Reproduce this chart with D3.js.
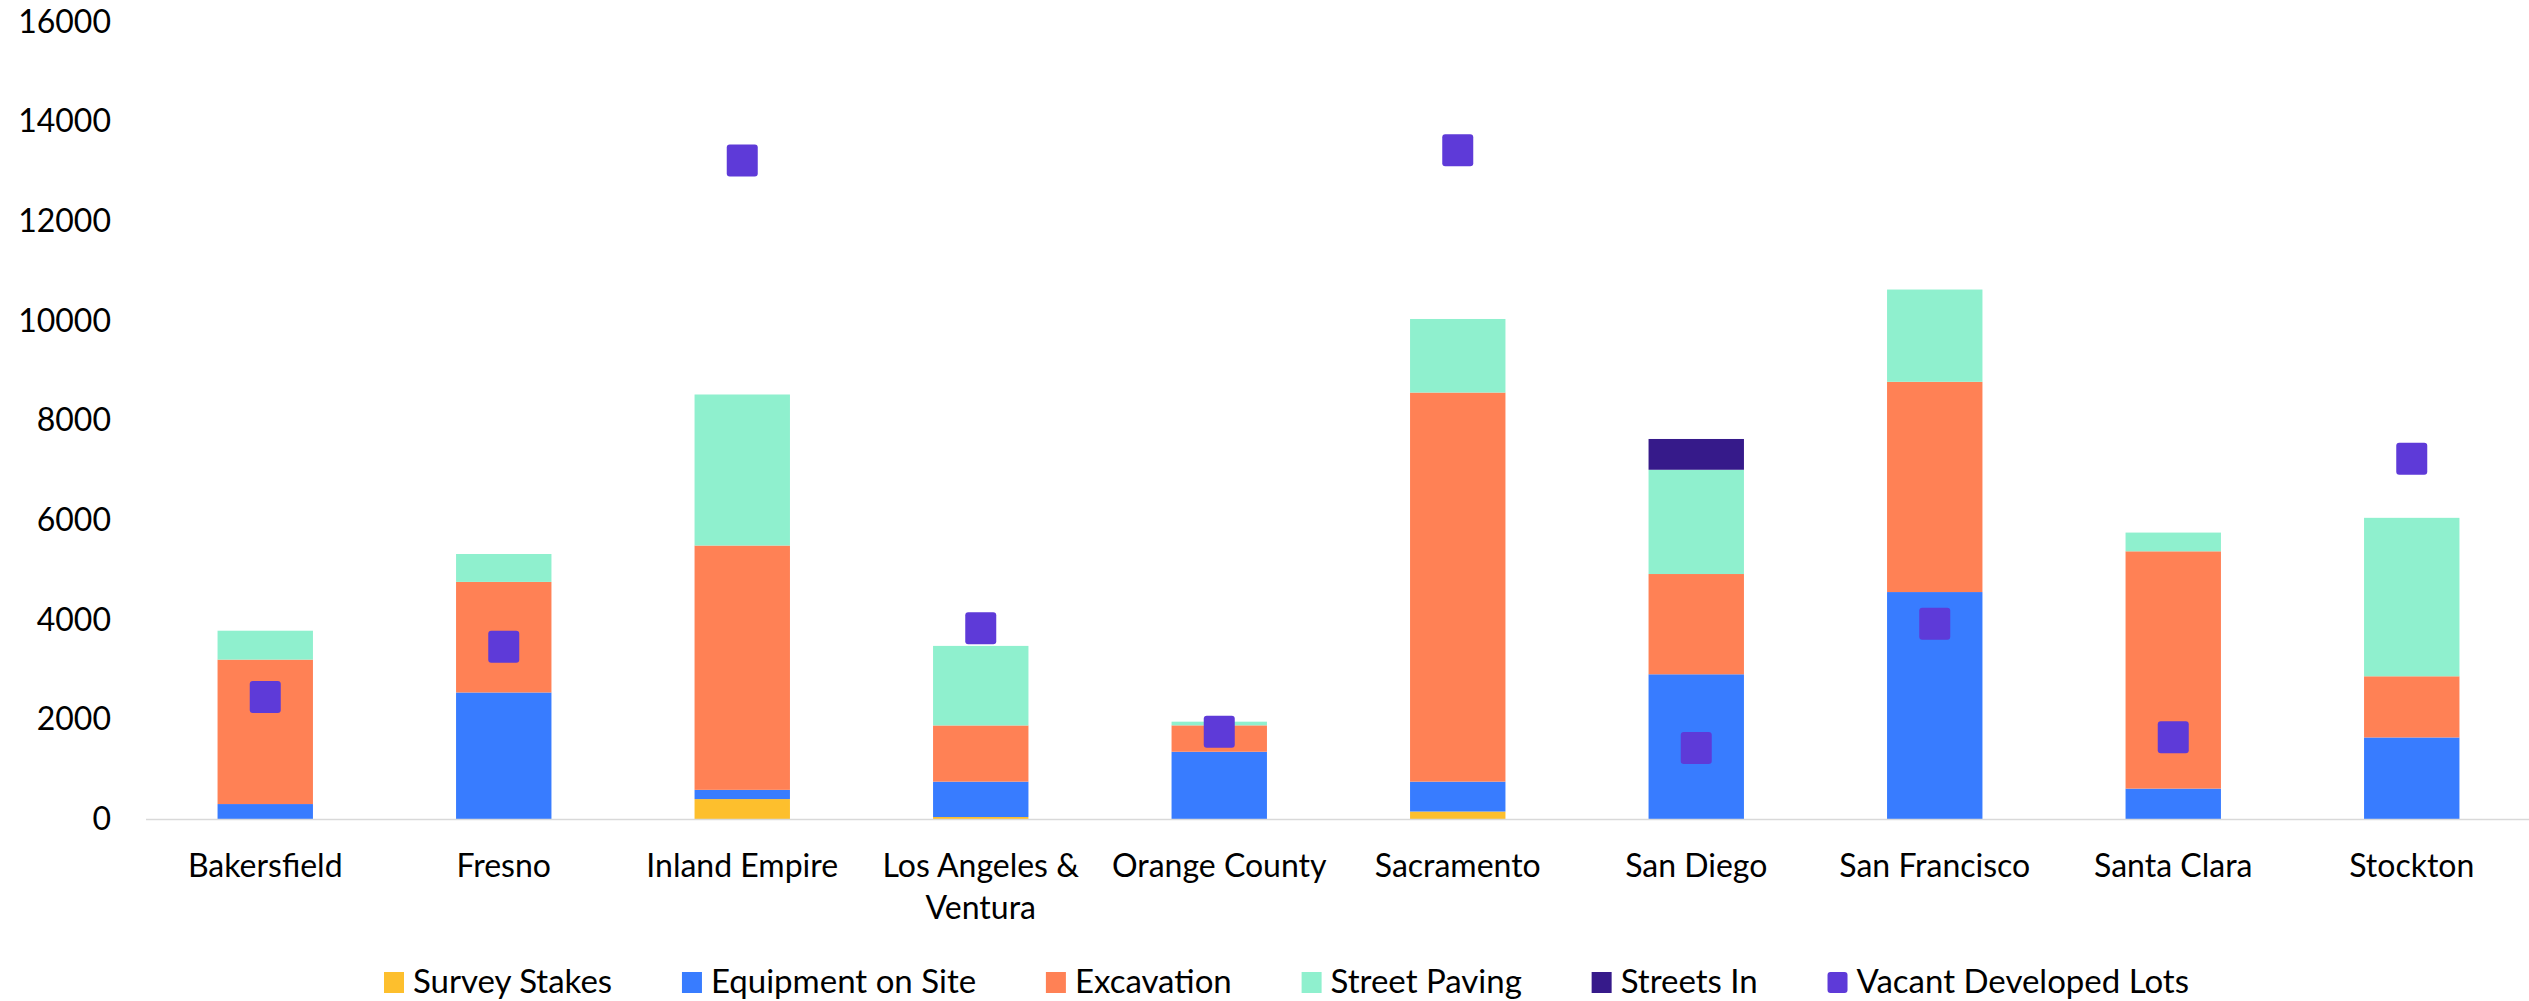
<!DOCTYPE html>
<html>
<head>
<meta charset="utf-8">
<script src="https://cdn.jsdelivr.net/npm/d3@7"></script>
<style>
  html, body { margin: 0; padding: 0; background: #ffffff; }
  svg { display: block; }
  text { font-family: Lato, "Open Sans", "Noto Sans", sans-serif; fill: #000; }
</style>
</head>
<body>
<script>
// Market regions
const categories = ["Bakersfield", "Fresno", "Inland Empire", "Los Angeles & Ventura", "Orange County",
  "Sacramento", "San Diego", "San Francisco", "Santa Clara", "Stockton"];

// Stacked stages
const surveyStakes    = [0, 0, 400, 40, 0, 150, 0, 0, 0, 0];
const equipmentOnSite = [300, 2540, 185, 710, 1350, 600, 2905, 4556, 610, 1637];
const excavation      = [2900, 2220, 4905, 1128, 530, 7811, 2013, 4221, 4764, 1228];
const streetPaving    = [580, 560, 3032, 1597, 74, 1477, 2093, 1852, 376, 3181];
const streetsIn       = [0, 0, 0, 0, 0, 0, 618, 0, 0, 0];

// Point series
const vacantDevelopedLots = [2460, 3470, 13230, 3840, 1760, 13435, 1435, 3930, 1650, 7240];

const yTicks = [0, 2000, 4000, 6000, 8000, 10000, 12000, 14000, 16000];

const seriesNames = ["Survey Stakes", "Equipment on Site", "Excavation", "Street Paving", "Streets In"];
const seriesValues = [surveyStakes, equipmentOnSite, excavation, streetPaving, streetsIn];
const seriesColors = ["#fdbf2d", "#387cff", "#ff8155", "#8ff0ce", "#361a8a"];
const pointName = "Vacant Developed Lots";
const pointColor = "#5e3ad8";

const W = 2529, H = 1001;
const svg = d3.select("body").append("svg").attr("width", W).attr("height", H);

const x = d3.scaleBand().domain(categories).range([146, 2531]).paddingInner(0.6).paddingOuter(0.3);
const y = d3.scaleLinear().domain([0, 16000]).range([819, 22]);

// Stack table built from the named arrays
const rows = categories.map((c, i) => {
  const r = { category: c };
  seriesNames.forEach((s, k) => { r[s] = seriesValues[k][i]; });
  return r;
});
const stacked = d3.stack().keys(seriesNames)(rows);

const bars = svg.append("g");
stacked.forEach((layer, k) => {
  bars.append("g").attr("fill", seriesColors[k])
    .selectAll("rect").data(layer.filter(d => d[1] - d[0] > 0)).join("rect")
    .attr("x", d => x(d.data.category))
    .attr("width", x.bandwidth())
    .attr("y", d => y(d[1]))
    .attr("height", d => y(d[0]) - y(d[1]));
});

// Baseline
svg.append("line")
  .attr("x1", 146).attr("x2", W)
  .attr("y1", y(0) + 0.5).attr("y2", y(0) + 0.5)
  .attr("stroke", "#d9d9d9").attr("stroke-width", 1.5);

// Y axis labels
const yAxis = d3.axisLeft(y).tickValues(yTicks).tickSize(0).tickPadding(0).tickFormat(d3.format("d"));
const gy = svg.append("g").attr("transform", "translate(111,0)").call(yAxis);
gy.select(".domain").remove();
gy.selectAll("text").attr("font-size", 32).attr("font-family", "Lato, sans-serif").attr("fill", "#000");

// X axis labels (with wrapping for long names)
const xAxis = d3.axisBottom(x).tickSize(0).tickPadding(0).tickFormat("");
const gx = svg.append("g").attr("transform", `translate(0,${y(0)})`).call(xAxis);
gx.select(".domain").remove();
const wrapLines = c => c === "Los Angeles & Ventura" ? ["Los Angeles &", "Ventura"] : [c];
gx.selectAll(".tick").each(function(c) {
  const t = d3.select(this).append("text")
    .attr("text-anchor", "middle").attr("font-size", 32).attr("fill", "#000");
  wrapLines(c).forEach((line, i) => {
    t.append("tspan").attr("x", 0).attr("y", 58 + i * 42).text(line);
  });
});

// Vacant lots markers
const m = 31;
svg.append("g").selectAll("rect").data(categories).join("rect")
  .attr("x", c => x(c) + x.bandwidth() / 2 - m / 2)
  .attr("y", (c, i) => y(vacantDevelopedLots[i]) - m / 2)
  .attr("width", m).attr("height", m + 1)
  .attr("rx", 3).attr("ry", 3)
  .attr("fill", pointColor);

// Legend: spread items across a fixed span below the chart
const legendItems = seriesNames.map((s, k) => ({ name: s, color: seriesColors[k], round: false }))
  .concat([{ name: pointName, color: pointColor, round: true }]);
const legendLeft = 384, legendRight = 2189;
const legend = svg.append("g");
const items = legend.selectAll("g").data(legendItems).join("g");
items.append("rect")
  .attr("y", 972).attr("width", 20).attr("height", 21)
  .attr("rx", d => d.round ? 3 : 0)
  .attr("fill", d => d.color);
items.append("text")
  .attr("x", 29).attr("y", 993)
  .attr("font-size", 33)
  .text(d => d.name);
const widths = [];
items.each(function() { widths.push(29 + d3.select(this).select("text").node().getComputedTextLength()); });
const gap = (legendRight - legendLeft - d3.sum(widths)) / (widths.length - 1);
let cx = legendLeft;
items.each(function(d, i) {
  d3.select(this).attr("transform", `translate(${cx},0)`);
  cx += widths[i] + gap;
});
</script>
</body>
</html>
